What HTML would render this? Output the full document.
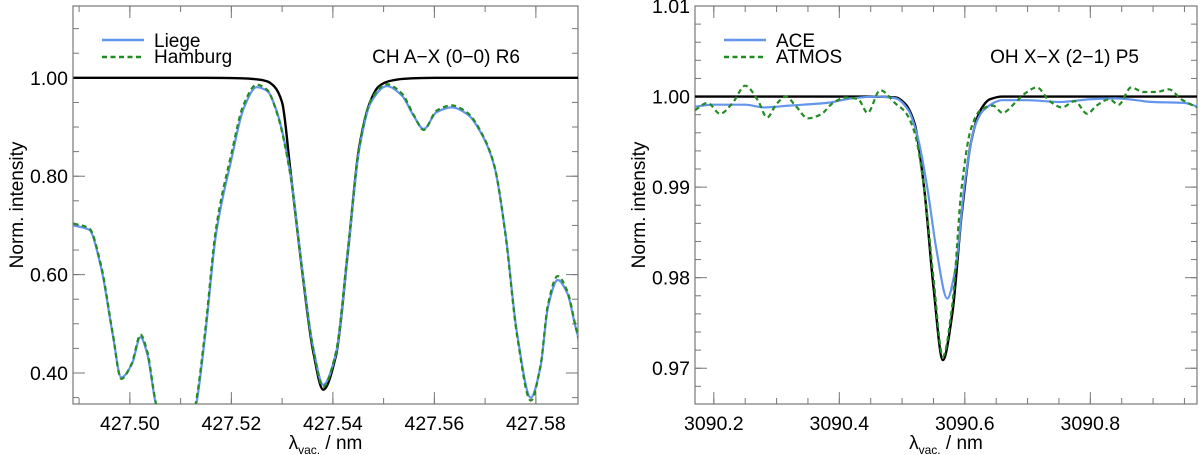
<!DOCTYPE html>
<html><head><meta charset="utf-8"><style>
html,body{margin:0;padding:0;background:#fff;}
svg{display:block;font-family:"Liberation Sans",Arial,sans-serif;}
</style></head><body>
<svg id="fig" width="1200" height="455" viewBox="0 0 1200 455" xmlns="http://www.w3.org/2000/svg"></svg>
<script>
// ---- Left panel data (CH A-X (0-0) R6) ----
const leftX = [427.4889,427.492,427.4943,427.4966,427.4983,427.5004,427.5021,427.5034,427.505,427.508,427.511,427.5131,427.5148,427.517,427.520,427.5224,427.525,427.527,427.529,427.5316,427.5339,427.5361,427.5381,427.5406,427.543,427.5452,427.5475,427.5506,427.5536,427.5559,427.5579,427.5604,427.5634,427.5665,427.5695,427.5718,427.574,427.5763,427.579,427.5809,427.5824,427.5843,427.5862,427.5878,427.5889];
const liege = [0.700,0.691,0.616,0.480,0.391,0.418,0.473,0.440,0.343,0.22,0.25,0.337,0.473,0.684,0.834,0.937,0.981,0.974,0.930,0.807,0.616,0.453,0.376,0.439,0.650,0.855,0.950,0.983,0.964,0.923,0.896,0.930,0.940,0.926,0.882,0.821,0.684,0.480,0.350,0.412,0.535,0.589,0.562,0.494,0.453];
const hamburg = [0.704,0.694,0.620,0.482,0.388,0.420,0.478,0.445,0.345,0.22,0.25,0.345,0.482,0.695,0.845,0.945,0.986,0.976,0.928,0.804,0.612,0.450,0.372,0.442,0.655,0.860,0.955,0.987,0.968,0.925,0.894,0.933,0.944,0.929,0.884,0.822,0.682,0.476,0.344,0.414,0.540,0.597,0.566,0.496,0.447];
const modelLX = [427.4889,427.505,427.515,427.522,427.525,427.527,427.5285,427.530,427.5316,427.5339,427.5361,427.5381,427.5406,427.543,427.5452,427.5475,427.549,427.551,427.554,427.560,427.570,427.5889];
const modelL = [1.0,1.0,1.0,0.999,0.997,0.993,0.982,0.950,0.815,0.612,0.445,0.366,0.435,0.650,0.860,0.955,0.982,0.993,0.998,1.0,1.0,1.0];
const leftXTicks = [427.50,427.52,427.54,427.56,427.58];
const leftXLabels = ["427.50","427.52","427.54","427.56","427.58"];
const leftYTicks = [0.40,0.60,0.80,1.00];
const leftYLabels = ["0.40","0.60","0.80","1.00"];

// ---- Right panel data (OH X-X (2-1) P5) ----
const aceX = [3090.17,3090.2,3090.25,3090.28,3090.32,3090.38,3090.42,3090.46,3090.49,3090.51,3090.525,3090.54,3090.555,3090.572,3090.585,3090.6,3090.615,3090.63,3090.66,3090.7,3090.75,3090.8,3090.84,3090.9,3090.95,3090.97];
const ace = [0.9989,0.9991,0.9991,0.9988,0.9990,0.9993,0.9998,1.0000,0.9998,0.9985,0.9955,0.9900,0.9830,0.9777,0.9810,0.9905,0.9965,0.9985,0.9996,0.9996,0.9994,0.9997,0.9998,0.9994,0.9993,0.9989];
const atmosX = [3090.17,3090.19,3090.21,3090.23,3090.25,3090.27,3090.285,3090.30,3090.315,3090.33,3090.35,3090.37,3090.39,3090.41,3090.43,3090.445,3090.465,3090.49,3090.505,3090.52,3090.535,3090.55,3090.565,3090.58,3090.595,3090.61,3090.625,3090.645,3090.66,3090.68,3090.695,3090.715,3090.735,3090.755,3090.775,3090.795,3090.81,3090.83,3090.845,3090.865,3090.885,3090.905,3090.925,3090.945,3090.97];
const atmos = [0.9985,0.9993,0.9981,0.9993,1.0012,0.9996,0.9977,0.9992,1.0000,0.9990,0.9976,0.9980,0.9993,0.9999,0.9997,0.9982,1.0007,0.9992,0.9983,0.9960,0.9900,0.9800,0.9713,0.9770,0.9900,0.9965,0.9985,0.9990,0.9982,0.9993,1.0003,1.0010,0.9995,0.9988,0.9995,0.9981,0.9990,0.9997,0.9991,1.0010,1.0005,1.0005,1.0008,0.9997,0.9988];
const modelRX = [3090.17,3090.3,3090.45,3090.49,3090.505,3090.52,3090.535,3090.55,3090.565,3090.58,3090.595,3090.61,3090.625,3090.64,3090.66,3090.8,3090.97];
const modelR = [1.0,1.0,1.0,0.9999,0.9992,0.9970,0.9900,0.9790,0.9709,0.9760,0.9870,0.9950,0.9985,0.9997,1.0,1.0,1.0];
const rightXTicks = [3090.2,3090.4,3090.6,3090.8];
const rightXLabels = ["3090.2","3090.4","3090.6","3090.8"];
const rightYTicks = [0.97,0.98,0.99,1.00,1.01];
const rightYLabels = ["0.97","0.98","0.99","1.00","1.01"];

const NS="http://www.w3.org/2000/svg";
const svg=document.getElementById('fig');
function mk(tag,attrs,parent){const e=document.createElementNS(NS,tag);for(const k in attrs)e.setAttribute(k,attrs[k]);(parent||svg).appendChild(e);return e;}
// monotone cubic (Fritsch-Carlson) to avoid overshoot
function smooth(pts){const n=pts.length;const dx=[],m=[],t=new Array(n);
 for(let i=0;i<n-1;i++){dx.push(pts[i+1][0]-pts[i][0]);m.push((pts[i+1][1]-pts[i][1])/dx[i]);}
 t[0]=m[0];t[n-1]=m[n-2];
 for(let i=1;i<n-1;i++){if(m[i-1]*m[i]<=0)t[i]=0;else{const w1=2*dx[i]+dx[i-1],w2=dx[i]+2*dx[i-1];t[i]=(w1+w2)/(w1/m[i-1]+w2/m[i]);}}
 let d="M"+pts[0][0].toFixed(2)+","+pts[0][1].toFixed(2);
 for(let i=0;i<n-1;i++){const h=dx[i]/3;
  d+=" C"+(pts[i][0]+h).toFixed(2)+","+(pts[i][1]+t[i]*h).toFixed(2)+" "+(pts[i+1][0]-h).toFixed(2)+","+(pts[i+1][1]-t[i+1]*h).toFixed(2)+" "+pts[i+1][0].toFixed(2)+","+pts[i+1][1].toFixed(2);}
 return d;}

function panel(o){
 const g=mk('g',{});
 
 
 const sx=v=>o.x0+(v-o.xmin)/(o.xmax-o.xmin)*(o.x1-o.x0);
 const sy=v=>o.y1-(v-o.ymin)/(o.ymax-o.ymin)*(o.y1-o.y0);
 const cid='clip-'+o.name;
 const cp=mk('clipPath',{id:cid},g);mk('rect',{x:o.x0,y:o.y0,width:o.x1-o.x0,height:o.y1-o.y0},cp);
 for(let v=Math.ceil(o.xmin/o.xminor-1e-6)*o.xminor; v<=o.xmax+1e-9; v+=o.xminor){const x=sx(v);
  const t1=mk('line',{x1:x,x2:x,y1:o.y1,y2:o.y1-6,stroke:'#777','stroke-width':1},g);
  mk('line',{x1:x,x2:x,y1:o.y0,y2:o.y0+6,stroke:'#777','stroke-width':1},g);}
 for(let v=Math.ceil(o.ymin/o.yminor-1e-6)*o.yminor; v<=o.ymax+1e-9; v+=o.yminor){const y=sy(v);
  const t1=mk('line',{x1:o.x0,x2:o.x0+6,y1:y,y2:y,stroke:'#777','stroke-width':1},g);
  mk('line',{x1:o.x1,x2:o.x1-6,y1:y,y2:y,stroke:'#777','stroke-width':1},g);}
 o.xt.forEach((v,i)=>{const x=sx(v);
  mk('line',{x1:x,x2:x,y1:o.y1,y2:o.y1-12,stroke:'#777','stroke-width':1},g);
  mk('line',{x1:x,x2:x,y1:o.y0,y2:o.y0+12,stroke:'#777','stroke-width':1},g);
  const t=mk('text',{x:x,y:o.y1+26,'font-size':19.5,'text-anchor':'middle',fill:'#000'},g);t.textContent=o.xl[i];
  });
 o.yt.forEach((v,i)=>{const y=sy(v);
  mk('line',{x1:o.x0,x2:o.x0+12,y1:y,y2:y,stroke:'#777','stroke-width':1},g);
  mk('line',{x1:o.x1,x2:o.x1-12,y1:y,y2:y,stroke:'#777','stroke-width':1},g);
  const t=mk('text',{x:o.x0-5,y:y+7,'font-size':19.5,'text-anchor':'end',fill:'#000'},g);t.textContent=o.yl[i];
  });
 const fr=mk('rect',{x:o.x0,y:o.y0,width:o.x1-o.x0,height:o.y1-o.y0,fill:'none',stroke:'#777','stroke-width':1.2},g);
 
 const lines=mk('g',{'clip-path':'url(#'+cid+')'},g);
 o.series.forEach(s=>{const pts=s.x.map((v,i)=>[sx(v),sy(s.y[i])]);
  const p=mk('path',{d:smooth(pts),fill:'none',stroke:s.c,'stroke-width':s.w,'stroke-dasharray':s.dash||'none'},lines);
  });
 const yt=mk('text',{x:0,y:0,'font-size':19,'text-anchor':'middle',transform:'translate('+(o.x0-50)+','+((o.y0+o.y1)/2)+') rotate(-90)'},g);
 yt.textContent='Norm. intensity';
 const xt=mk('text',{x:(o.x0+o.x1)/2,y:449,'font-size':19,'text-anchor':'middle'},g);
 
 xt.innerHTML='λ<tspan font-size="12" dy="5">vac.</tspan><tspan dy="-5"> / nm</tspan>';
 const lx=o.x0+29;
 const l1=mk('line',{x1:lx,x2:lx+42,y1:40,y2:40,stroke:'#6495ed','stroke-width':2.4},g);
 const l2=mk('line',{x1:lx,x2:lx+42,y1:57,y2:57,stroke:'#228b22','stroke-width':2.4,'stroke-dasharray':'5,3.5'},g);
 const t1=mk('text',{x:lx+52,y:47,'font-size':19},g);t1.textContent=o.leg[0];
 const t2=mk('text',{x:lx+52,y:63,'font-size':19},g);t2.textContent=o.leg[1];
 const tl=mk('text',{x:o.x1-58,y:63,'font-size':19,'text-anchor':'end'},g);tl.textContent=o.title;
}
panel({name:'left-panel',x0:73,x1:578,y0:6,y1:404,xmin:427.4888,xmax:427.5883,ymin:0.337,ymax:1.146,xminor:0.01,yminor:0.05,
 xt:leftXTicks,xl:leftXLabels,yt:leftYTicks,yl:leftYLabels,leg:['Liege','Hamburg'],title:'CH A\u2212X (0\u22120) R6',
 series:[{x:modelLX,y:modelL,c:'#000',w:2.4,n:'model-line'},{x:leftX,y:liege,c:'#6495ed',w:2.2,n:'liege-line'},{x:leftX,y:hamburg,c:'#228b22',w:2.2,dash:'5,3.5',n:'hamburg-line'}]});
panel({name:'right-panel',x0:695,x1:1197,y0:6,y1:404,xmin:3090.17,xmax:3090.97,ymin:0.96605,ymax:1.01,xminor:0.05,yminor:0.002,
 xt:rightXTicks,xl:rightXLabels,yt:rightYTicks,yl:rightYLabels,leg:['ACE','ATMOS'],title:'OH X\u2212X (2\u22121) P5',
 series:[{x:modelRX,y:modelR,c:'#000',w:2.4,n:'model-line'},{x:aceX,y:ace,c:'#6495ed',w:2.2,n:'ace-line'},{x:atmosX,y:atmos,c:'#228b22',w:2.2,dash:'5,3.5',n:'atmos-line'}]});
</script>
</body></html>
